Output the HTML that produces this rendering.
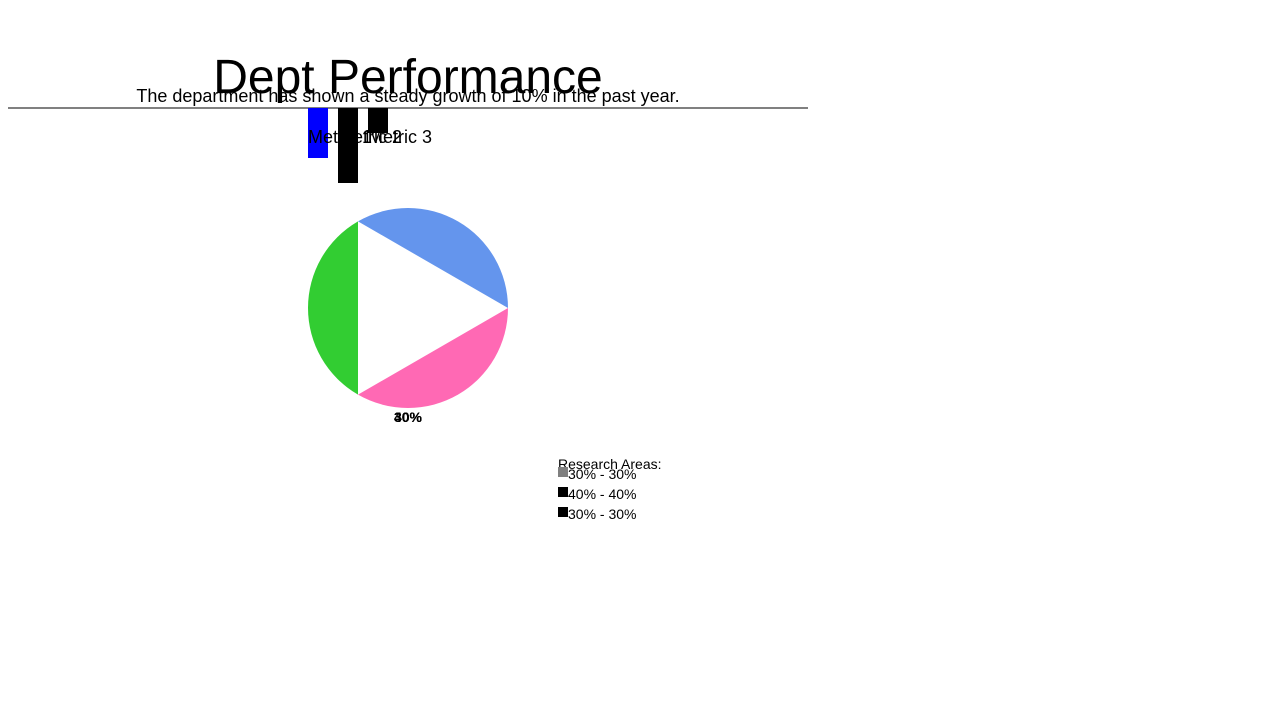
<!DOCTYPE html>
<html><head><meta charset="utf-8"><style>
body{margin:0;width:1280px;height:720px;background:#fff;font-family:"Liberation Sans",sans-serif;position:relative;overflow:hidden}
.t{position:absolute;white-space:nowrap}
</style></head><body>
<div class="t" style="left:0;width:816px;text-align:center;top:50px;font-size:48px;line-height:56px;color:#000">Dept Performance</div>
<div class="t" style="left:0;width:816px;text-align:center;top:85px;font-size:18px;line-height:22px;color:#000">The department has shown a steady growth of 10% in the past year.</div>
<div style="position:absolute;left:8px;top:107px;width:800px;height:2px;background:#808080"></div>
<svg id="chart" width="1280" height="720" style="position:absolute;left:0;top:0"></svg>
<div class="t" style="left:558px;top:456px;font-size:14px;line-height:16px">Research Areas:</div>
<div id="legend"></div>
<script>
const barLabels=["Metric 1","Metric 2","Metric 3"];
const barValues=[50,75,25];
const barColors=["#0000ff","#000000","#000000"];
const sliceWeights=[1,1,1];
const sliceLabels=["30%","40%","30%"];
const sliceColors=["#6495ed","#ff69b4","#32cd32"];
const legendLabels=["30% - 30%","40% - 40%","30% - 30%"];
const legendColors=["#808080","#000000","#000000"];
const NS="http://www.w3.org/2000/svg";
const svg=document.getElementById('chart');
function mk(t,a){const e=document.createElementNS(NS,t);for(const k in a)e.setAttribute(k,a[k]);svg.appendChild(e);return e;}
const barX=i=>308+i*30, barH=v=>v;
barValues.forEach((v,i)=>{
 const r=mk('rect',{x:barX(i),y:108,width:20,height:barH(v),fill:barColors[i]});
 
 
});
barLabels.forEach((l,i)=>{
 const t=mk('text',{x:barX(i),y:143,'font-size':18,fill:'#000','font-family':'Liberation Sans'});
 t.textContent=l;
 
 
});
const cx=408,cy=308,R=100;
const tot=sliceWeights.reduce((a,b)=>a+b,0);
let ang=-120;
sliceWeights.forEach((w,i)=>{
 const a0=ang*Math.PI/180, a1=(ang+w/tot*360)*Math.PI/180;
 const x0=cx+R*Math.cos(a0),y0=cy+R*Math.sin(a0),x1=cx+R*Math.cos(a1),y1=cy+R*Math.sin(a1);
 const large=(a1-a0)>Math.PI?1:0;
 const p=mk('path',{d:`M${x0},${y0} A${R},${R} 0 ${large} 1 ${x1},${y1} Z`,fill:sliceColors[i]});
 
 
 ang+=w/tot*360;
});
sliceLabels.forEach((l,i)=>{
 const t=mk('text',{x:cx,y:422,'text-anchor':'middle','font-size':14,'font-weight':'bold',fill:'#000','font-family':'Liberation Sans'});
 t.textContent=l;
 
 
});
const lg=document.getElementById('legend');
legendLabels.forEach((l,i)=>{
 const d=document.createElement('div');
 d.className='t';d.style.cssText=`left:558px;top:${466+i*20}px;font-size:14px;line-height:16px`;
 d.innerHTML=`<span style="display:inline-block;width:10px;height:10px;background:${legendColors[i]};vertical-align:top;margin-top:1px"></span>${l}`;
 
 
 lg.appendChild(d);
});
</script>
</body></html>
